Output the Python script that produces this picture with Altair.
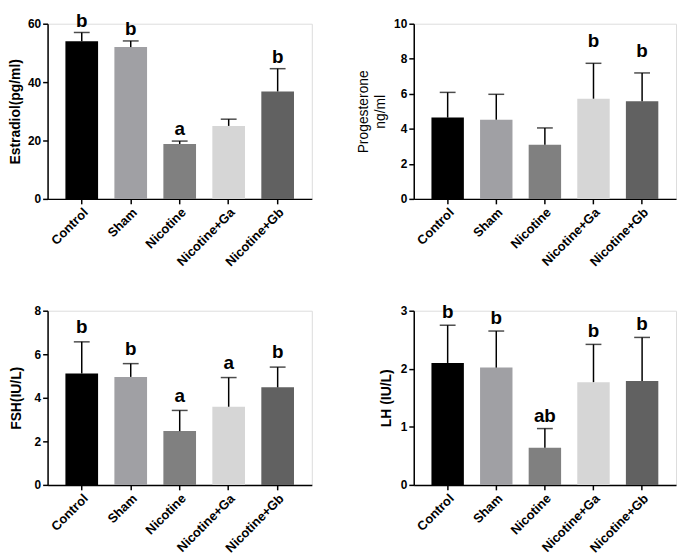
import altair as alt
import pandas as pd

groups = ["Control", "Sham", "Nicotine", "Nicotine+Ga", "Nicotine+Gb"]
colors = ["#000000", "#a0a0a4", "#808080", "#d6d6d6", "#616161"]

estradiol_mean = [54.0, 52.0, 18.8, 25.0, 36.8]
estradiol_upper = [57.0, 54.1, 19.8, 27.3, 44.6]
estradiol_letters = ["b", "b", "a", "", "b"]

progesterone_mean = [4.64, 4.52, 3.09, 5.72, 5.57]
progesterone_upper = [6.08, 5.97, 4.05, 7.74, 7.19]
progesterone_letters = ["", "", "", "b", "b"]

fsh_mean = [5.12, 4.96, 2.47, 3.59, 4.48]
fsh_upper = [6.57, 5.57, 3.42, 4.93, 5.41]
fsh_letters = ["b", "b", "a", "a", "b"]

lh_mean = [2.10, 2.02, 0.64, 1.77, 1.79]
lh_upper = [2.75, 2.65, 0.97, 2.42, 2.54]
lh_letters = ["b", "b", "ab", "b", "b"]

FONT = "Liberation Sans"


def panel(mean, upper, letters, title, ymax, ticks, height, width,
          title_weight, title_pad, letter_dy, line_height=14):
    df = pd.DataFrame({"group": groups, "mean": mean, "upper": upper,
                       "letter": letters})
    base = alt.Chart(df)
    xscale = alt.Scale(paddingInner=0.333, paddingOuter=0.364)
    xaxis = alt.Axis(title=None, labelAngle=-45, labelFontSize=13,
                     labelFontWeight="bold", labelFont=FONT,
                     labelColor="black", tickColor="black",
                     tickWidth=1.5, tickSize=5, domainColor="black",
                     domainWidth=1.5, labelPadding=2)
    yscale = alt.Scale(domain=[0, ymax], nice=False, zero=True)
    yaxis = alt.Axis(values=ticks, title=title, format="d", grid=False,
                     domainColor="black", domainWidth=1.5,
                     labelFont=FONT, labelFontSize=12, labelOverlap=False,
                     labelFontWeight="bold", labelColor="black",
                     tickColor="black", tickWidth=1.5, tickSize=5,
                     labelPadding=2, titleFont=FONT, titleFontSize=14,
                     titleFontWeight=title_weight, titleColor="black",
                     titlePadding=title_pad, titleLineHeight=line_height)

    def X():
        return alt.X("group:N", sort=groups, scale=xscale, axis=xaxis)

    def Y(field):
        return alt.Y(field, scale=yscale, axis=yaxis)

    bars = base.mark_bar().encode(
        x=X(), y=Y("mean:Q"),
        color=alt.Color("group:N", scale=alt.Scale(domain=groups, range=colors),
                        legend=None))
    err = base.mark_rule(color="black", strokeWidth=1.5).encode(
        x=X(), y=Y("mean:Q"), y2="upper:Q")
    cap = base.mark_tick(color="black", thickness=1.5, size=16).encode(
        x=X(), y=Y("upper:Q"))
    txt = base.mark_text(font=FONT, fontSize=19, fontWeight="bold",
                         baseline="top", dy=letter_dy,
                         color="black").encode(
        x=X(), y=Y("upper:Q"), text="letter:N")
    return alt.layer(bars, err, cap, txt).properties(
        width=width, height=height)


p1 = panel(estradiol_mean, estradiol_upper, estradiol_letters,
           "Estradiol(pg/ml)", 60, [0, 20, 40, 60], 177, 267,
           "bold", 5, -21)
p2 = panel(progesterone_mean, progesterone_upper, progesterone_letters,
           ["Progesterone", "ng/ml"], 10, [0, 2, 4, 6, 8, 10], 177,
           265, "normal", 6, -31, 17)
p3 = panel(fsh_mean, fsh_upper, fsh_letters, "FSH(IU/L)", 8,
           [0, 2, 4, 6, 8], 176, 267, "bold", 11, -24)
p4 = panel(lh_mean, lh_upper, lh_letters, "LH (IU/L)", 3, [0, 1, 2, 3],
           176, 265, "bold", 7, -22)

chart = alt.concat(p1, p2, p3, p4, columns=2, bounds="flush",
                   spacing={"row": 113, "column": 103}).properties(
    padding={"left": 0, "top": 0, "right": 0, "bottom": 0}
).configure_view(stroke=None).configure(background="white")

chart.save("out.html", embed_options={"renderer": "svg", "actions": False})
